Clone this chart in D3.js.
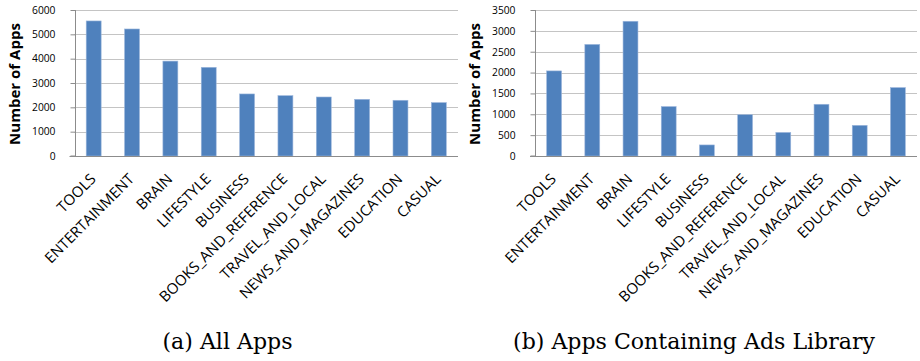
<!DOCTYPE html>
<html>
<head>
<meta charset="utf-8">
<script src="https://cdn.jsdelivr.net/npm/d3@7"></script>
<style>
  html, body { margin: 0; padding: 0; background: #fff; }
  svg { display: block; }
</style>
</head>
<body>
<svg id="chart" width="920" height="361"></svg>
<script>
// Play-store categories, shared by both panels
const categories = ["TOOLS", "ENTERTAINMENT", "BRAIN", "LIFESTYLE", "BUSINESS",
  "BOOKS_AND_REFERENCE", "TRAVEL_AND_LOCAL", "NEWS_AND_MAGAZINES", "EDUCATION", "CASUAL"];

// Panel (a): number of apps per category
const allAppsCounts = [5550, 5220, 3900, 3645, 2550, 2480, 2425, 2330, 2290, 2195];
const allAppsTicks = [0, 1000, 2000, 3000, 4000, 5000, 6000];

// Panel (b): number of apps that embed an ads library
const adsAppsCounts = [2040, 2675, 3230, 1185, 265, 990, 565, 1240, 735, 1640];
const adsAppsTicks = [0, 500, 1000, 1500, 2000, 2500, 3000, 3500];

const yTitle = "Number of Apps";
const captions = ["(a) All Apps", "(b) Apps Containing Ads Library"];

const svg = d3.select("#chart");
const sansFont = "'Open Sans', 'Liberation Sans', sans-serif";
const serifFont = "'DejaVu Serif', 'Liberation Serif', serif";

// pick a font size so that `sample` spans `width` pixels
function fitSize(sample, family, weight, width) {
  const t = svg.append("text").attr("font-family", family).attr("font-weight", weight)
    .attr("font-size", 20).text(sample);
  const w = t.node().getComputedTextLength();
  t.remove();
  return 20 * width / w;
}

const tickSize = fitSize("6000", sansFont, "normal", 23.5);
const labelSize = fitSize("ENTERTAINMENT", sansFont, "normal", 119);
const titleSize = fitSize(yTitle, sansFont, "bold", 122);
const captionSize = fitSize(captions[1], serifFont, "normal", 362);

const panels = [
  { values: allAppsCounts, ticks: allAppsTicks, left: 74.5, right: 458, caption: captions[0], capX: 227.5 },
  { values: adsAppsCounts, ticks: adsAppsTicks, left: 535, right: 917, caption: captions[1], capX: 694 }
];

const plotTop = 10, plotBottom = 156;

panels.forEach(p => {
  const g = svg.append("g");
  const x = d3.scaleBand().domain(categories).range([p.left, p.right]).paddingInner(0.61).paddingOuter(0.305);
  const yMax = p.ticks[p.ticks.length - 1];
  const y = d3.scaleLinear().domain([0, yMax]).range([plotBottom, plotTop]);

  // horizontal gridlines
  g.append("g").selectAll("line").data(p.ticks.filter(t => t > 0)).join("line")
    .attr("x1", p.left).attr("x2", p.right)
    .attr("y1", d => Math.round(y(d)) + 0.5).attr("y2", d => Math.round(y(d)) + 0.5)
    .attr("stroke", "#c4c4c4").attr("stroke-width", 1);

  // bars
  g.append("g").selectAll("rect").data(p.values).join("rect")
    .attr("x", (d, i) => x(categories[i]))
    .attr("width", x.bandwidth())
    .attr("y", d => y(d))
    .attr("height", d => y(0) - y(d))
    .attr("fill", "#4f81bd")
    .attr("stroke", "#9db7dc").attr("stroke-width", 0.6);

  // y axis with outward ticks
  const yAxis = d3.axisLeft(y).tickValues(p.ticks).tickSize(5).tickPadding(15).tickFormat(d3.format("d"));
  const ya = g.append("g").attr("transform", `translate(${Math.round(p.left) + 0.5},0)`).call(yAxis);
  ya.select(".domain").attr("stroke", "#8c8c8c").attr("d", `M-5,${plotBottom}H0V${plotTop}`);
  ya.selectAll(".tick line").attr("stroke", "#8c8c8c");
  ya.selectAll(".tick text").attr("font-family", sansFont).attr("font-size", tickSize).attr("fill", "#000");
  ya.selectAll(".tick").filter(d => d === 0).select("line").remove();

  // x axis baseline
  g.append("line")
    .attr("x1", p.left - 5).attr("x2", p.right)
    .attr("y1", plotBottom + 0.5).attr("y2", plotBottom + 0.5)
    .attr("stroke", "#8c8c8c");

  // rotated category labels
  g.append("g").selectAll("text").data(categories).join("text")
    .attr("transform", d => `translate(${x(d) + x.bandwidth() / 2 + 3},${plotBottom + 24}) rotate(-45)`)
    .attr("text-anchor", "end")
    .attr("font-family", sansFont).attr("font-size", labelSize)
    .attr("fill", "#000")
    .text(d => d);

  // y-axis title
  g.append("text")
    .attr("transform", `translate(${p.left - 55},${(plotTop + plotBottom) / 2 + 1}) rotate(-90)`)
    .attr("text-anchor", "middle")
    .attr("font-family", sansFont).attr("font-weight", "bold").attr("font-size", titleSize)
    .attr("fill", "#000")
    .text(yTitle);

  // panel caption
  svg.append("text")
    .attr("x", p.capX).attr("y", 349)
    .attr("text-anchor", "middle")
    .attr("font-family", serifFont).attr("font-size", captionSize)
    .attr("fill", "#000")
    .text(p.caption);
});
</script>
</body>
</html>
